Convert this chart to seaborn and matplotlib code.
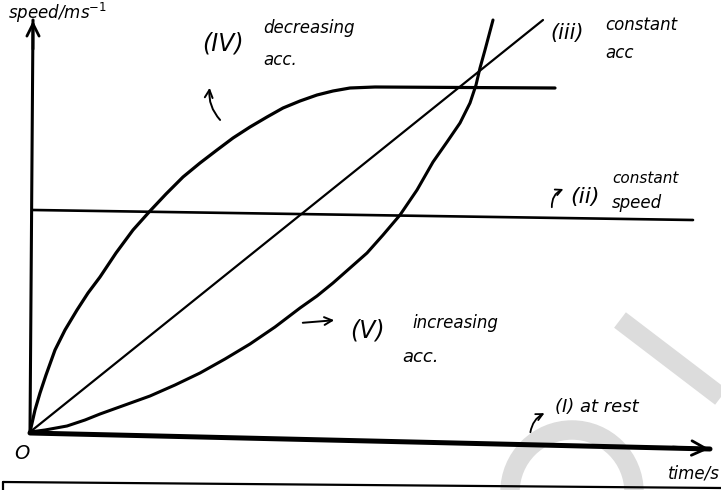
import matplotlib
matplotlib.use("Agg")
import matplotlib.pyplot as plt
from matplotlib.patches import Arc
import seaborn as sns
import pandas as pd

sns.set_theme(style="white")
plt.rcParams['font.family'] = ['DejaVu Sans']

# ---- data (time units, speed units) ----
rest_t = [0.0, 68.0]
rest_v = [-0.1, -1.7]

const_speed_t = [0.3, 66.3]
const_speed_v = [22.2, 21.2]

const_acc_t = [0.0, 51.3]
const_acc_v = [0.0, 41.2]

dec_acc_t = [0.0, 0.5, 1.0, 1.6, 2.5, 3.5, 4.7, 5.8, 7.0, 8.6, 10.3, 12.0, 13.6, 15.3, 17.0,
             18.7, 20.3, 22.0, 23.7, 25.3, 27.0, 28.7, 30.3, 32.0, 34.5, 52.5]
dec_acc_v = [0.0, 2.2, 3.9, 5.7, 8.2, 10.2, 12.2, 13.9, 15.5, 17.9, 20.2, 22.1, 23.8, 25.5, 26.9,
             28.2, 29.4, 30.5, 31.5, 32.4, 33.1, 33.7, 34.1, 34.4, 34.5, 34.4]

inc_acc_t = [0.0, 1.5, 3.7, 5.5, 7.0, 9.5, 12.0, 14.5, 17.0, 19.5, 22.0, 24.5, 27.0, 28.7,
             30.3, 32.0, 33.7, 35.3, 37.0, 38.7, 40.3, 41.7, 43.0, 44.0, 44.6, 45.0, 45.5, 46.3]
inc_acc_v = [0.0, 0.2, 0.6, 1.2, 1.8, 2.7, 3.6, 4.7, 5.9, 7.3, 8.8, 10.5, 12.4, 13.6,
             14.9, 16.4, 17.9, 19.7, 21.7, 24.2, 27.0, 29.0, 30.9, 32.9, 34.7, 36.4, 38.2, 41.2]

yaxis_t = [0.0, 0.3]
yaxis_v = [0.0, 41.2]

fig = plt.figure(figsize=(7.21, 4.90), dpi=100)
ax = fig.add_axes([0, 0, 1, 1])
ax.set_xlim(-3.0, 69.1)
ax.set_ylim(-5.8, 43.2)
ax.axis('off')

# faint watermark strokes
ax.plot([59.0, 69.1], [11.2, 3.5], color='#dcdcdc', lw=14, solid_capstyle='butt', zorder=0)
ax.add_patch(Arc((54.2, -6.0), 12.4, 12.4, theta1=0, theta2=180, color='#dcdcdc', lw=14, zorder=0))
# bottom page rule
ax.plot([-2.7, 69.1], [-5.0, -5.6], color='black', lw=1.6, zorder=1)
ax.plot([-2.7, -2.7], [-5.0, -5.8], color='black', lw=1.6, zorder=1)

def draw(t, v, lw):
    df = pd.DataFrame({'t': t, 'v': v})
    sns.lineplot(data=df, x='t', y='v', sort=False, estimator=None, color='black',
                 lw=lw, ax=ax, zorder=3, solid_joinstyle='round', solid_capstyle='round')

draw(rest_t, rest_v, 3.6)
draw(yaxis_t, yaxis_v, 2.2)
draw(const_speed_t, const_speed_v, 1.9)
draw(const_acc_t, const_acc_v, 1.6)
draw(dec_acc_t, dec_acc_v, 2.3)
draw(inc_acc_t, inc_acc_v, 2.2)
ax.set_xlabel(''); ax.set_ylabel('')
ax.axis('off')

# axis arrowheads
ax.annotate('', xy=(0.3, 41.4), xytext=(0.3, 38.0),
            arrowprops=dict(arrowstyle='->', color='black', lw=2, mutation_scale=22))
ax.annotate('', xy=(68.2, -1.7), xytext=(64.0, -1.5),
            arrowprops=dict(arrowstyle='->', color='black', lw=2, mutation_scale=26))

hand = dict(color='black', fontstyle='italic')
# labels
ax.text(-2.2, 41.9, 'speed/ms$^{-1}$', fontsize=12, ha='left', va='center', **hand)
ax.text(-1.6, -2.1, 'O', fontsize=14, ha='left', va='center', **hand)
ax.text(69.0, -4.1, 'time/s', fontsize=12, ha='right', va='center', **hand)

ax.text(17.2, 38.9, '(IV)', fontsize=17, ha='left', va='center', **hand)
ax.text(23.3, 40.4, 'decreasing', fontsize=12, ha='left', va='center', **hand)
ax.text(23.3, 37.2, 'acc.', fontsize=12, ha='left', va='center', **hand)
ax.annotate('', xy=(18.0, 34.7), xytext=(19.2, 31.0),
            arrowprops=dict(arrowstyle='->', color='black', lw=1.4,
                            connectionstyle='arc3,rad=-0.25', mutation_scale=14))

ax.text(52.0, 39.9, '(iii)', fontsize=15, ha='left', va='center', **hand)
ax.text(57.5, 40.7, 'constant', fontsize=12, ha='left', va='center', **hand)
ax.text(57.5, 37.9, 'acc', fontsize=12, ha='left', va='center', **hand)

ax.text(54.0, 23.5, '(ii)', fontsize=16, ha='left', va='center', **hand)
ax.text(58.2, 25.4, 'constant', fontsize=11, ha='left', va='center', **hand)
ax.text(58.2, 22.9, 'speed', fontsize=12, ha='left', va='center', **hand)
ax.annotate('', xy=(53.6, 24.4), xytext=(52.2, 22.2),
            arrowprops=dict(arrowstyle='->', color='black', lw=1.3,
                            connectionstyle='arc3,rad=-0.4', mutation_scale=11))

ax.text(32.0, 10.2, '(V)', fontsize=17, ha='left', va='center', **hand)
ax.text(38.2, 10.9, 'increasing', fontsize=12, ha='left', va='center', **hand)
ax.text(37.2, 7.5, 'acc.', fontsize=13, ha='left', va='center', **hand)
ax.annotate('', xy=(30.7, 11.2), xytext=(27.0, 10.9),
            arrowprops=dict(arrowstyle='->', color='black', lw=1.4, mutation_scale=14))

ax.text(52.5, 2.5, '(I) at rest', fontsize=13, ha='left', va='center', **hand)
ax.annotate('', xy=(51.7, 2.0), xytext=(50.0, -0.3),
            arrowprops=dict(arrowstyle='->', color='black', lw=1.3,
                            connectionstyle='arc3,rad=-0.3', mutation_scale=12))

fig.savefig('out.png', dpi=100)
